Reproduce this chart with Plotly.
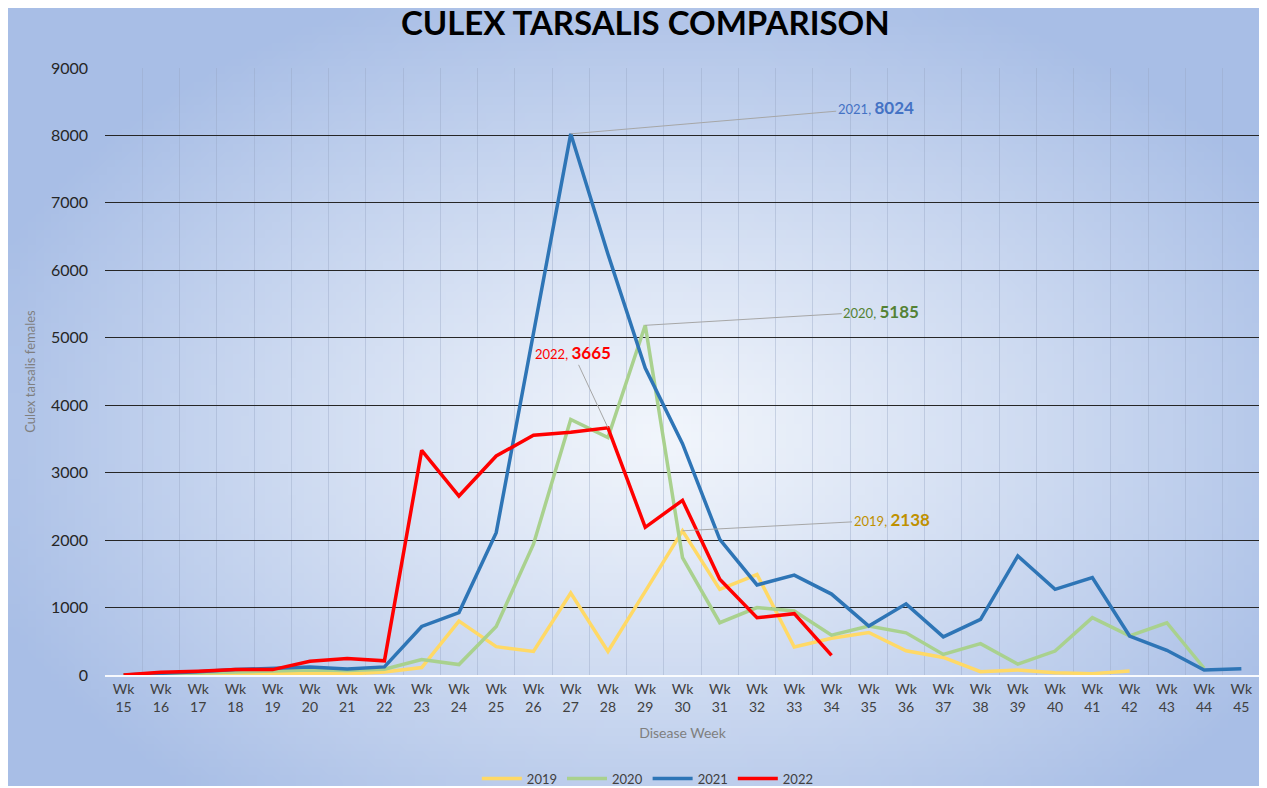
import base64, struct, zlib, math
import plotly.graph_objects as go

weeks = list(range(15, 46))
week_labels = [f"Wk<br>{w}" for w in weeks]

y2019 = [0, 5, 15, 25, 30, 30, 15, 45, 110, 800, 420, 350, 1215, 350, 1240, 2138,
         1270, 1490, 415, 545, 630, 360, 260, 50, 75, 35, 20, 60, None, None, None]
y2020 = [0, 10, 30, 45, 55, 75, 65, 85, 230, 155, 720, 1940, 3790, 3520, 5185, 1740,
         775, 1000, 950, 590, 725, 625, 305, 465, 160, 355, 850, 580, 775, 100, None]
y2021 = [0, 20, 50, 80, 105, 120, 90, 120, 720, 925, 2110, 5100, 8024, 6240, 4550, 3430,
         2010, 1335, 1480, 1200, 725, 1055, 565, 825, 1765, 1270, 1443, 578, 366, 74, 94]
y2022 = [0, 40, 55, 80, 80, 205, 245, 210, 3331, 2654, 3247, 3554, 3600, 3665, 2190, 2590,
         1419, 850, 909, 292] + [None] * 11

series = [
    ("2019", y2019, "#FFD966", 3.5),
    ("2020", y2020, "#A9D18E", 3.5),
    ("2021", y2021, "#2E75B6", 3.5),
    ("2022", y2022, "#FF0000", 3.5),
]

# ---- background radial gradient as PNG (styling only) ----
W, H = 160, 100
center = (242, 246, 252)
edge = (168, 190, 230)
rows = []
for j in range(H):
    row = bytearray([0])
    for i in range(W):
        dx = (i / (W - 1) - 0.52) / 0.58
        dy = (j / (H - 1) - 0.55) / 0.62
        t = min(1.0, math.sqrt(dx * dx + dy * dy))
        t = t ** 1.1
        row += bytes(int(center[k] + (edge[k] - center[k]) * t) for k in range(3))
    rows.append(bytes(row))
raw = b"".join(rows)

def chunk(tag, data):
    c = struct.pack(">I", len(data)) + tag + data
    return c + struct.pack(">I", zlib.crc32(tag + data) & 0xffffffff)

png = b"\x89PNG\r\n\x1a\n" + chunk(b"IHDR", struct.pack(">IIBBBBB", W, H, 8, 2, 0, 0, 0)) \
      + chunk(b"IDAT", zlib.compress(raw, 9)) + chunk(b"IEND", b"")
bg_src = "data:image/png;base64," + base64.b64encode(png).decode()

fig = go.Figure()
for name, vals, color, width in series:
    fig.add_trace(go.Scatter(
        x=week_labels, y=vals, name=name, mode="lines",
        line=dict(color=color, width=width), connectgaps=False,
    ))

FONT = "Lato, Open Sans, sans-serif"
L, R, T, B = 97, 15, 60, 121
FW, FH = 1267, 788
pw, ph = FW - L - R, FH - T - B

fig.add_layout_image(dict(
    source=bg_src, xref="paper", yref="paper",
    x=-L / pw, y=1 + T / ph,
    sizex=(FW - 4) / pw, sizey=(FH - 10) / ph,
    xanchor="left", yanchor="top", sizing="stretch", layer="below",
))

def ann(xi, yv, year, val, color, ax, ay):
    fig.add_annotation(
        x=week_labels[xi], y=yv, ax=ax, ay=ay, axref="pixel", ayref="pixel",
        text=f"<span style='font-size:13px'>{year}, </span><b>{val}</b>",
        font=dict(family=FONT, size=17, color=color),
        showarrow=True, arrowhead=0, arrowwidth=1, arrowcolor="#A6A6A6",
        standoff=0, startstandoff=0,
    )

ann(weeks.index(27), 8024, "2021", "8024", "#4472C4", 305, -26)
ann(weeks.index(29), 5185, "2020", "5185", "#548235", 236, -14)
ann(weeks.index(30), 2138, "2019", "2138", "#BF9000", 209, -11)
ann(weeks.index(28), 3665, "2022", "3665", "#FF0000", -35, -75)

fig.update_layout(
    width=FW, height=FH,
    margin=dict(l=L, r=R, t=T, b=B),
    paper_bgcolor="white", plot_bgcolor="rgba(0,0,0,0)",
    font=dict(family=FONT, color="#262626"),
    title=dict(text="<b>CULEX TARSALIS COMPARISON</b>", x=0.503, xanchor="center",
               yref="container", y=0.995, yanchor="top", pad=dict(t=0, b=0),
               font=dict(family=FONT, size=33, color="black")),
    showlegend=True,
    legend=dict(orientation="h", xref="container", x=0.505, xanchor="center",
                yref="container", y=0.003, yanchor="bottom",
                font=dict(family=FONT, size=13, color="#404040"),
                bgcolor="rgba(0,0,0,0)", itemwidth=40, tracegroupgap=0),
    xaxis=dict(
        type="category", tickson="boundaries", showgrid=True,
        gridcolor="rgba(150,165,195,0.4)", gridwidth=1,
        ticks="", showline=True, linecolor="rgba(255,255,255,0.9)", linewidth=2,
        tickfont=dict(family=FONT, size=14, color="#404040"),
        title=dict(text="Disease Week", font=dict(family=FONT, size=14, color="#7F7F7F"), standoff=14),
        range=[-0.5, 30.5],
    ),
    yaxis=dict(
        range=[0, 9000], dtick=1000, showgrid=True, gridcolor="#262626", gridwidth=1.3,
        zeroline=False, ticks="", ticklabelstandoff=16,
        tickfont=dict(family=FONT, size=16, color="#262626"),
        title=dict(text="Culex tarsalis females", font=dict(family=FONT, size=13, color="#7F7F7F"), standoff=12),
    ),
)

fig.write_html("out.html")
